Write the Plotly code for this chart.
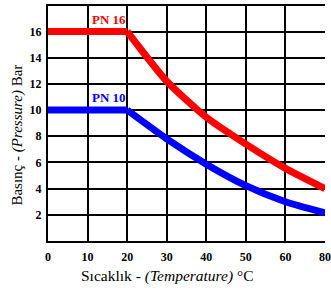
import plotly.graph_objects as go

temps = [0, 10, 20, 30, 40, 50, 60, 70]
pn16 = [16, 16, 16, 12.2, 9.45, 7.4, 5.55, 4.0]
pn10 = [10, 10, 10, 7.8, 5.87, 4.23, 3.0, 2.15]
x_tick_vals = [0, 10, 20, 30, 40, 50, 60, 70]
x_tick_text = ["0", "10", "20", "30", "40", "50", "60", "80"]
y_tick_vals = [2, 4, 6, 8, 10, 12, 14, 16, 18]
y_tick_text = ["2", "4", "6", "8", "10", "12", "14", "16", ""]
x_title = "Sıcaklık - <i>(Temperature)</i> °C"
y_title = "Basınç - <i>(Pressure)</i> Bar"
knee = 2  # index where the flat section ends

SERIF = "Liberation Serif"

fig = go.Figure()
for vals, col in ((pn16, "#ff0000"), (pn10, "#0000ff")):
    fig.add_trace(go.Scatter(x=temps[:knee + 1], y=vals[:knee + 1], mode="lines",
                             line=dict(color=col, width=7),
                             showlegend=False, cliponaxis=False, hoverinfo="skip"))
    fig.add_trace(go.Scatter(x=temps[knee:], y=vals[knee:], mode="lines",
                             line=dict(color=col, width=7, shape="spline", smoothing=0.6),
                             showlegend=False, cliponaxis=False, hoverinfo="skip"))

fig.add_annotation(x=15.5, y=16, text="<b>PN 16</b>", showarrow=False,
                   yanchor="bottom", yshift=3, font=dict(family=SERIF, size=13, color="#ff0000"))
fig.add_annotation(x=15.5, y=10, text="<b>PN 10</b>", showarrow=False,
                   yanchor="bottom", yshift=3, font=dict(family=SERIF, size=13, color="#0000ff"))

# axis titles
fig.add_annotation(xref="paper", yref="paper", x=0.431, y=-0.148, text=x_title,
                   showarrow=False, xanchor="center", yanchor="middle",
                   font=dict(family=SERIF, size=15.5, color="black"))
fig.add_annotation(xref="paper", yref="paper", x=-0.11, y=0.447, text=y_title,
                   showarrow=False, xanchor="center", yanchor="middle", textangle=-90,
                   font=dict(family=SERIF, size=15, color="black"))

fig.update_layout(
    width=331, height=291,
    margin=dict(l=48, r=0, t=4, b=50),
    paper_bgcolor="white", plot_bgcolor="white",
    font=dict(family=SERIF, color="black"),
    xaxis=dict(range=[0, 70], tickvals=x_tick_vals, ticktext=x_tick_text,
               showgrid=True, gridcolor="#000000", gridwidth=2,
               showline=True, linecolor="#000000", linewidth=2,
               zeroline=False, ticks="outside", ticklen=4, tickcolor="rgba(0,0,0,0)",
               ticklabeloverflow="allow",
               tickfont=dict(family=SERIF, size=12, color="black", weight="bold")),
    yaxis=dict(range=[0, 18.1], tickvals=y_tick_vals, ticktext=y_tick_text,
               showgrid=True, gridcolor="#000000", gridwidth=2,
               showline=True, linecolor="#000000", linewidth=2,
               zeroline=False, ticks="outside", ticklen=2, tickcolor="rgba(0,0,0,0)",
               tickfont=dict(family=SERIF, size=12, color="black", weight="bold")),
)

fig.write_html("out.html", config={"displayModeBar": False, "staticPlot": True},
               post_script="document.body.style.margin='0';document.body.style.padding='0';")
